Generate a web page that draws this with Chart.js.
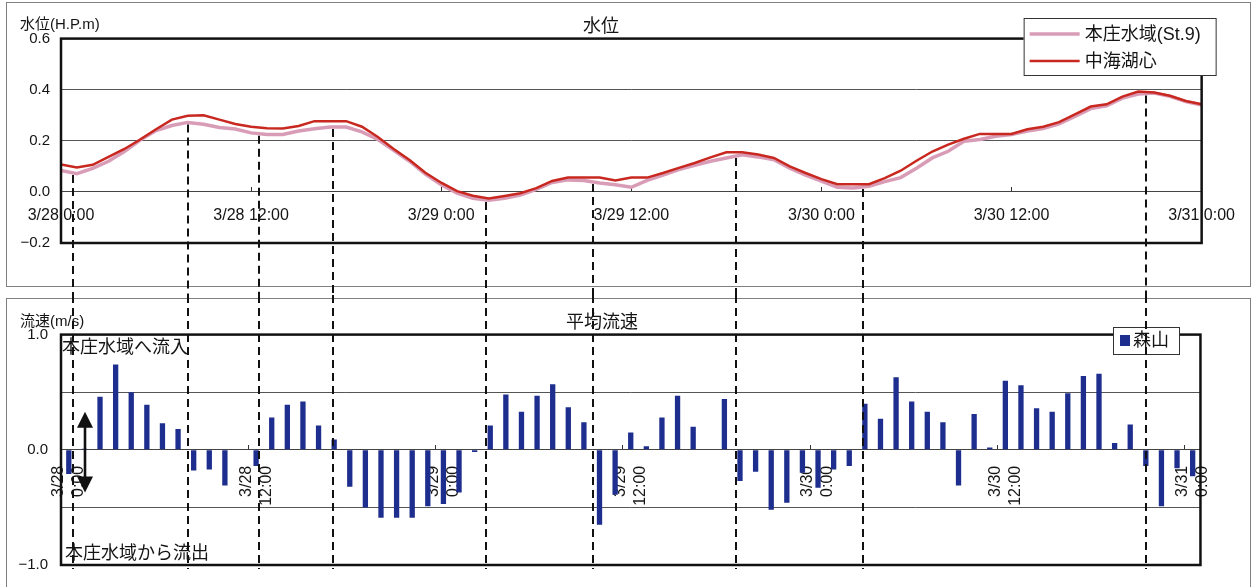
<!DOCTYPE html>
<html lang="ja">
<head>
<meta charset="utf-8">
<title>水位・平均流速</title>
<script src="https://cdn.jsdelivr.net/npm/chart.js@4.4.1/dist/chart.umd.min.js"></script>
<style>
  html, body { margin: 0; padding: 0; background: #fff; }
  body { width: 1254px; height: 587px; position: relative; overflow: hidden; }
  .panel { position: absolute; border: 1px solid #808080; box-sizing: border-box; }
  #panelLevel { left: 6px; top: 2px; width: 1245px; height: 285px; }
  #panelFlow { left: 6px; top: 298px; width: 1245px; height: 300px; }
  canvas { position: absolute; left: 0; }
  #levelCanvas { top: 0; }
  #flowCanvas { top: 295px; }
</style>
</head>
<body>
<div class="panel" id="panelLevel"></div>
<div class="panel" id="panelFlow"></div>
<canvas id="levelCanvas" width="1254" height="295"></canvas>
<canvas id="flowCanvas" width="1254" height="292"></canvas>
<script>
// hourly axis, 3/28 0:00 .. 3/31 0:00
const days = ['3/28', '3/29', '3/30', '3/31'];
const timeLabels = [];
for (let h = 0; h <= 72; h++) timeLabels.push(days[Math.floor(h / 24)] + ' ' + (h % 24) + ':00');

// 水位 (H.P.m), hourly
const honjoLevel = [
  0.084, 0.071, 0.092, 0.120, 0.158, 0.203, 0.240, 0.260, 0.272, 0.265, 0.252, 0.246,
  0.231, 0.225, 0.225, 0.238, 0.247, 0.254, 0.254, 0.235, 0.205, 0.163, 0.120, 0.070,
  0.028, -0.005, -0.025, -0.033, -0.025, -0.012, 0.010, 0.037, 0.047, 0.045, 0.035, 0.028,
  0.018, 0.045, 0.066, 0.087, 0.104, 0.120, 0.133, 0.145, 0.137, 0.126, 0.093, 0.066,
  0.042, 0.018, 0.015, 0.022, 0.040, 0.056, 0.093, 0.133, 0.159, 0.198, 0.205, 0.218,
  0.225, 0.238, 0.248, 0.266, 0.295, 0.326, 0.337, 0.367, 0.383, 0.387, 0.374, 0.354, 0.340
];
const nakaumiLevel = [
  0.107, 0.096, 0.106, 0.137, 0.168, 0.205, 0.245, 0.283, 0.298, 0.300, 0.283, 0.266,
  0.255, 0.249, 0.248, 0.258, 0.277, 0.277, 0.277, 0.255, 0.215, 0.168, 0.125, 0.075,
  0.036, 0.003, -0.015, -0.026, -0.016, -0.005, 0.015, 0.043, 0.056, 0.056, 0.056, 0.045,
  0.056, 0.056, 0.074, 0.094, 0.113, 0.135, 0.155, 0.155, 0.146, 0.133, 0.100, 0.074,
  0.050, 0.030, 0.030, 0.030, 0.054, 0.083, 0.122, 0.158, 0.185, 0.208, 0.227, 0.227,
  0.227, 0.245, 0.255, 0.273, 0.303, 0.334, 0.343, 0.373, 0.393, 0.389, 0.376, 0.356, 0.343
];

// 平均流速 (m/s) at 森山, hourly; + is flow into 本庄水域
const moriyamaFlow = [
  -0.21, 0.01, 0.46, 0.74, 0.50, 0.39, 0.23, 0.18, -0.18, -0.17, -0.31, null,
  -0.14, 0.28, 0.39, 0.42, 0.21, 0.09, -0.32, -0.50, -0.59, -0.59, -0.59, -0.49,
  -0.47, -0.37, -0.02, 0.21, 0.48, 0.33, 0.47, 0.57, 0.37, 0.24, -0.65, -0.39,
  0.15, 0.03, 0.28, 0.47, 0.20, null, 0.44, -0.27, -0.19, -0.52, -0.46, -0.20,
  -0.33, -0.17, -0.14, 0.40, 0.27, 0.63, 0.42, 0.33, 0.24, -0.31, 0.31, 0.02,
  0.60, 0.56, 0.36, 0.33, 0.49, 0.64, 0.66, 0.06, 0.22, -0.14, -0.49, -0.16, -0.23
];

// hours of the level peaks/troughs, marked across both charts
const turnHours = [0.75, 8.0, 12.5, 17.2, 26.8, 33.6, 42.6, 50.6, 68.5];

const FONT = "'Liberation Sans', 'Noto Sans CJK JP', sans-serif";
const INK = '#141414';

function valueAt(series, h) {
  const i = Math.floor(h), f = h - i;
  const a = series[i], b = series[Math.min(i + 1, series.length - 1)];
  return a + (b - a) * f;
}

const fmt = v => v.toFixed(1).replace('-', '\u2212');

function drawFrame(chart) {
  const { ctx, chartArea: a } = chart;
  ctx.save();
  ctx.strokeStyle = '#111';
  ctx.lineWidth = 2.5;
  ctx.strokeRect(a.left, a.top, a.right - a.left, a.bottom - a.top);
  ctx.restore();
}

function drawDashed(ctx, x, y0, y1) {
  ctx.save();
  ctx.strokeStyle = '#111';
  ctx.lineWidth = 2;
  ctx.setLineDash([8, 5]);
  ctx.beginPath();
  ctx.moveTo(x, y0);
  ctx.lineTo(x, y1);
  ctx.stroke();
  ctx.restore();
}

function drawText(ctx, text, x, y, size, align) {
  ctx.save();
  ctx.fillStyle = INK;
  ctx.font = size + 'px ' + FONT;
  ctx.textAlign = align || 'left';
  ctx.textBaseline = 'middle';
  ctx.fillText(text, x, y);
  ctx.restore();
}

const levelDecor = {
  id: 'levelDecor',
  afterDraw(chart) {
    const { ctx, chartArea: a, scales } = chart;
    drawFrame(chart);
    drawText(ctx, '水位(H.P.m)', 20, 25, 15);

    turnHours.forEach(h => {
      const x = Math.round(scales.x.getPixelForValue(h));
      const y = scales.y.getPixelForValue(valueAt(honjoLevel, h)) + 2;
      drawDashed(ctx, x, y, chart.height);
    });

    // legend box sitting on the top edge of the plot
    const bx = a.right - 178, by = 18, bw = 192, bh = 57;
    ctx.save();
    ctx.fillStyle = '#fff';
    ctx.fillRect(bx, by, bw, bh);
    ctx.strokeStyle = '#333';
    ctx.lineWidth = 1;
    ctx.strokeRect(bx + 0.5, by + 0.5, bw, bh);
    chart.data.datasets.forEach((ds, i) => {
      const y = by + 16 + i * 27;
      ctx.strokeStyle = ds.borderColor;
      ctx.lineWidth = ds.borderWidth;
      ctx.beginPath();
      ctx.moveTo(bx + 6, y);
      ctx.lineTo(bx + 56, y);
      ctx.stroke();
      drawText(ctx, ds.label, bx + 61, y + 1, 18);
    });
    ctx.restore();
  }
};

const flowDecor = {
  id: 'flowDecor',
  afterDraw(chart) {
    const { ctx, chartArea: a, scales } = chart;
    drawFrame(chart);
    drawText(ctx, '流速(m/s)', 20, 27, 15);
    drawText(ctx, '本庄水域へ流入', a.left + 1, a.top + 13, 18);
    drawText(ctx, '本庄水域から流出', a.left + 4, a.bottom - 11, 18);

    // in/out arrow
    const ax = a.left + 24;
    const yUp = scales.y.getPixelForValue(0.33);
    const yDn = scales.y.getPixelForValue(-0.37);
    ctx.save();
    ctx.strokeStyle = '#111';
    ctx.fillStyle = '#111';
    ctx.lineWidth = 2.6;
    ctx.beginPath();
    ctx.moveTo(ax, yUp + 10);
    ctx.lineTo(ax, yDn - 10);
    ctx.stroke();
    ctx.beginPath();
    ctx.moveTo(ax, yUp); ctx.lineTo(ax - 8, yUp + 16); ctx.lineTo(ax + 8, yUp + 16); ctx.closePath();
    ctx.fill();
    ctx.beginPath();
    ctx.moveTo(ax, yDn); ctx.lineTo(ax - 8, yDn - 16); ctx.lineTo(ax + 8, yDn - 16); ctx.closePath();
    ctx.fill();
    ctx.restore();

    // legend
    const ds = chart.data.datasets[0];
    const bx = 1113, by = 32, bw = 66, bh = 27;
    ctx.save();
    ctx.fillStyle = '#fff';
    ctx.fillRect(bx, by, bw, bh);
    ctx.strokeStyle = '#333';
    ctx.lineWidth = 1;
    ctx.strokeRect(bx + 0.5, by + 0.5, bw, bh);
    ctx.fillStyle = ds.backgroundColor;
    ctx.fillRect(bx + 7, by + 8, 10, 11);
    ctx.restore();
    drawText(ctx, ds.label, bx + 20, by + 14, 18);

    turnHours.forEach(h => {
      const x = Math.round(levelChart.scales.x.getPixelForValue(h));
      drawDashed(ctx, x, 0, a.bottom + 4);
    });
  }
};

const levelChart = new Chart(document.getElementById('levelCanvas'), {
  type: 'line',
  data: {
    datasets: [
      {
        label: '本庄水域(St.9)',
        data: honjoLevel.map((v, i) => ({ x: i, y: v })),
        borderColor: '#d99cb6',
        borderWidth: 3.5,
        pointRadius: 0,
        tension: 0,
        order: 2
      },
      {
        label: '中海湖心',
        data: nakaumiLevel.map((v, i) => ({ x: i, y: v })),
        borderColor: '#c8281f',
        borderWidth: 2.5,
        pointRadius: 0,
        tension: 0,
        order: 1
      }
    ]
  },
  options: {
    responsive: false,
    animation: false,
    layout: { padding: { left: 0, right: 52, top: 0, bottom: 52 } },
    scales: {
      x: {
        type: 'linear',
        min: 0,
        max: 72,
        position: { y: 0 },
        ticks: {
          stepSize: 12,
          autoSkip: false,
          maxRotation: 0,
          padding: 19,
          color: INK,
          font: { family: FONT, size: 16 },
          callback: v => timeLabels[v]
        },
        grid: { drawOnChartArea: false, tickLength: -5, tickColor: '#333' },
        border: { color: '#444', width: 1 }
      },
      y: {
        min: -0.2,
        max: 0.6,
        ticks: {
          stepSize: 0.2,
          padding: 11,
          color: INK,
          font: { family: FONT, size: 15 },
          callback: fmt
        },
        grid: { color: '#555', lineWidth: 1, drawTicks: false },
        border: { display: false },
        afterFit(scale) { scale.width = 61; }
      }
    },
    plugins: {
      legend: { display: false },
      tooltip: { enabled: false },
      title: {
        display: true,
        text: '水位',
        color: INK,
        font: { family: FONT, size: 18, weight: 'normal' },
        padding: { top: 16, bottom: 1 }
      }
    }
  },
  plugins: [levelDecor]
});

const flowChart = new Chart(document.getElementById('flowCanvas'), {
  type: 'bar',
  data: {
    labels: timeLabels,
    datasets: [{
      label: '森山',
      data: moriyamaFlow,
      backgroundColor: '#1e2e8e',
      barPercentage: 0.34,
      categoryPercentage: 1.0
    }]
  },
  options: {
    responsive: false,
    animation: false,
    layout: { padding: { left: 0, right: 50, top: 0, bottom: 19 } },
    scales: {
      x: {
        position: { y: 0 },
        ticks: {
          autoSkip: false,
          minRotation: 90,
          maxRotation: 90,
          padding: 21,
          labelOffset: -10,
          color: INK,
          font: { family: FONT, size: 16, lineHeight: 1.25 },
          callback: (v, i) => (i % 12 === 0 ? timeLabels[i].split(' ') : '')
        },
        grid: {
          drawOnChartArea: false,
          tickLength: -5,
          tickColor: c => (c.index % 12 === 0 ? '#333' : 'rgba(0,0,0,0)')
        },
        border: { color: '#444', width: 1 }
      },
      y: {
        min: -1,
        max: 1,
        ticks: {
          stepSize: 0.5,
          padding: 13,
          color: INK,
          font: { family: FONT, size: 15 },
          callback: v => (Math.abs(v % 1) < 1e-9 ? fmt(v) : '')
        },
        grid: { color: '#555', lineWidth: 1, drawTicks: false },
        border: { display: false },
        afterFit(scale) { scale.width = 61; }
      }
    },
    plugins: {
      legend: { display: false },
      tooltip: { enabled: false },
      title: {
        display: true,
        text: '平均流速',
        color: INK,
        font: { family: FONT, size: 18, weight: 'normal' },
        padding: { top: 17, bottom: 1 }
      }
    }
  },
  plugins: [flowDecor]
});
</script>
</body>
</html>
